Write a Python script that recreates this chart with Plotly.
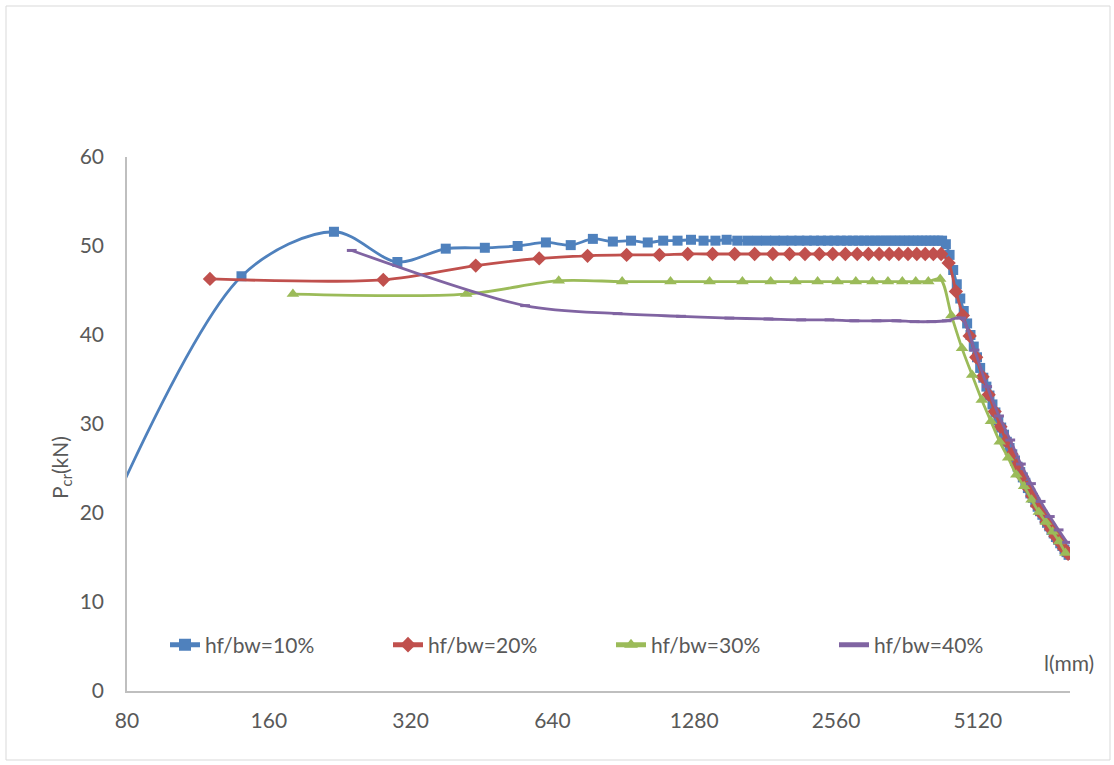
import plotly.graph_objects as go
import math

# ---------------- data ----------------
x_10 = [60, 140, 220, 300, 380, 460, 540, 620, 700, 780, 860, 940, 1020, 1100,
        1180, 1260, 1340, 1420, 1500, 1580, 1660, 1740, 1820, 1900, 1980, 2060,
        2140, 2220, 2300, 2380, 2460, 2540, 2620, 2700, 2780, 2860, 2940, 3020,
        3100, 3180, 3260, 3340, 3420, 3500, 3580, 3660, 3740, 3820, 3900, 3980,
        4060, 4140, 4220, 4300, 4380, 4460, 4540, 4620, 4700, 4780, 4860, 4940,
        5020, 5100, 5180, 5260, 5340, 5420, 5500, 5580, 5660, 5740, 5820, 5900,
        5980, 6060, 6140, 6220, 6300, 6380, 6460, 6540, 6620, 6700, 6780, 6860,
        6940, 7020, 7100, 7180, 7260, 7340, 7420, 7500, 7580, 7660, 7740, 7820,
        7900, 7980]
p_10 = [9.5, 46.6, 51.6, 48.2, 49.7, 49.8, 50.0, 50.4, 50.1, 50.8, 50.5, 50.6, 50.4, 50.6,
        50.6, 50.7, 50.6, 50.6, 50.7, 50.6, 50.6, 50.6, 50.6, 50.6, 50.6, 50.6,
        50.6, 50.6, 50.6, 50.6, 50.6, 50.6, 50.6, 50.6, 50.6, 50.6, 50.6, 50.6,
        50.6, 50.6, 50.6, 50.6, 50.6, 50.6, 50.6, 50.6, 50.6, 50.6, 50.6, 50.6,
        50.6, 50.6, 50.6, 50.6, 50.2, 49.0, 47.3, 45.7, 44.1, 42.7, 41.3, 40.0,
        38.7, 37.5, 36.3, 35.2, 34.2, 33.2, 32.2, 31.3, 30.4, 29.6, 28.8, 28.0,
        27.3, 26.6, 25.9, 25.2, 24.6, 24.0, 23.4, 22.8, 22.2, 21.7, 21.2, 20.7,
        20.2, 19.8, 19.3, 18.9, 18.5, 18.1, 17.7, 17.3, 17.0, 16.6, 16.3, 15.9,
        15.6, 15.3]

x_20 = [120, 280, 440, 600, 760, 920, 1080, 1240, 1400, 1560, 1720, 1880, 2040,
        2200, 2360, 2520, 2680, 2840, 3000, 3160, 3320, 3480, 3640, 3800, 3960,
        4120, 4280, 4440, 4600, 4760, 4920, 5080, 5240, 5400, 5560, 5720, 5880,
        6040, 6200, 6360, 6520, 6680, 6840, 7000, 7160, 7320, 7480, 7640, 7800,
        7960]
p_20 = [46.3, 46.2, 47.8, 48.6, 48.9, 49.0, 49.0, 49.1, 49.1, 49.1, 49.1, 49.1, 49.1,
        49.1, 49.1, 49.1, 49.1, 49.1, 49.1, 49.1, 49.1, 49.1, 49.1, 49.1, 49.1,
        49.1, 49.1, 48.1, 44.9, 42.2, 39.9, 37.5, 35.3, 33.3, 31.4, 29.7, 28.1,
        26.6, 25.4, 24.1, 22.9, 21.9, 20.8, 19.9, 19.0, 18.2, 17.4, 16.7, 16.0,
        15.4]

x_30 = [180, 420, 660, 900, 1140, 1380, 1620, 1860, 2100, 2340, 2580, 2820, 3060,
        3300, 3540, 3780, 4020, 4260, 4500, 4740, 4980, 5220, 5460, 5700, 5940,
        6180, 6420, 6660, 6900, 7140, 7380, 7620, 7860]
p_30 = [44.6, 44.6, 46.1, 46.0, 46.0, 46.0, 46.0, 46.0, 46.0, 46.0, 46.0, 46.0, 46.0,
        46.0, 46.0, 46.0, 46.0, 46.3, 42.2, 38.5, 35.5, 32.7, 30.3, 28.0, 26.2,
        24.3, 23.0, 21.5, 20.1, 19.0, 17.9, 16.8, 15.5]

x_40 = [240, 560, 880, 1200, 1520, 1840, 2160, 2480, 2800, 3120, 3440, 3760, 4080,
        4400, 4720, 5040, 5360, 5680, 6000, 6320, 6640, 6960, 7280, 7600, 7920]
p_40 = [49.5, 43.3, 42.4, 42.1, 41.9, 41.8, 41.7, 41.7, 41.6, 41.6, 41.6, 41.5, 41.5,
        41.6, 41.9, 38.3, 34.2, 30.9, 28.2, 25.5, 23.3, 21.3, 19.6, 18.1, 16.7]

series_names = ["hf/bw=10%", "hf/bw=20%", "hf/bw=30%", "hf/bw=40%"]
x_ticks = [80, 160, 320, 640, 1280, 2560, 5120]
y_ticks = [0, 10, 20, 30, 40, 50, 60]

# ---------------- styling ----------------
colors = ["#4F81BD", "#C0504D", "#9BBB59", "#8064A2"]
FONT = "Lato"
GREY = "#595959"

W, H = 1114, 765
L, R, T, B = 127, 44, 157, 74
pw, ph = W - L - R, H - T - B

def px_to_paper_x(px):
    return (px - L) / pw

def px_to_paper_y(py):
    return (H - B - py) / ph

fig = go.Figure()
marker_specs = [
    dict(symbol="square", size=10),
    dict(symbol="diamond", size=11),
    dict(symbol="triangle-up", size=11),
    dict(symbol="line-ew", size=7),
]
data = [(x_10, p_10), (x_20, p_20), (x_30, p_30), (x_40, p_40)]
for (xs, ys), name, col, ms in zip(data, series_names, colors, marker_specs):
    m = dict(color=col, **ms)
    if ms["symbol"] == "line-ew":
        m["line"] = dict(color=col, width=3)
    else:
        m["line"] = dict(color=col, width=0)
    fig.add_trace(go.Scatter(
        x=xs, y=ys, name=name, mode="lines+markers",
        line=dict(color=col, width=2.8, shape="spline", smoothing=0.9),
        marker=m,
    ))

xmax = 80 * 2 ** ((1070 - 127) / 141.8)
fig.update_xaxes(
    type="log", range=[math.log10(80), math.log10(xmax)],
    tickvals=x_ticks, ticktext=[str(v) for v in x_ticks],
    showgrid=False, zeroline=False, showline=True, linecolor="#BFBFBF", linewidth=1.5,
    ticks="", tickfont=dict(family=FONT, size=21, color=GREY), ticklabelstandoff=10,
)
fig.update_yaxes(
    range=[0, 60], tickvals=y_ticks,
    showgrid=False, zeroline=False, showline=True, linecolor="#BFBFBF", linewidth=1.5,
    ticks="", tickfont=dict(family=FONT, size=21, color=GREY), ticklabelstandoff=17,
)

fig.add_annotation(
    text="P<sub>cr</sub>(kN)", textangle=-90, showarrow=False,
    xref="paper", yref="paper", x=px_to_paper_x(61), y=px_to_paper_y(468),
    xanchor="center", yanchor="middle",
    font=dict(family=FONT, size=21, color=GREY),
)
fig.add_annotation(
    text="l(mm)", showarrow=False,
    xref="paper", yref="paper", x=px_to_paper_x(1069), y=px_to_paper_y(662),
    xanchor="center", yanchor="middle",
    font=dict(family=FONT, size=21, color=GREY),
)
fig.add_shape(
    type="rect", xref="paper", yref="paper",
    x0=px_to_paper_x(6), x1=px_to_paper_x(1110),
    y0=px_to_paper_y(760), y1=px_to_paper_y(6),
    line=dict(color="#D9D9D9", width=1), fillcolor="rgba(0,0,0,0)", layer="below",
)

fig.update_layout(
    width=W, height=H,
    margin=dict(l=L, r=R, t=T, b=B, pad=0),
    paper_bgcolor="white", plot_bgcolor="white",
    showlegend=True,
    legend=dict(
        orientation="h", x=px_to_paper_x(165), y=px_to_paper_y(645),
        xanchor="left", yanchor="middle",
        font=dict(family=FONT, size=21, color=GREY),
        entrywidth=178, entrywidthmode="pixels",
        bgcolor="rgba(0,0,0,0)", itemsizing="constant",
    ),
)

fig.write_html("out.html", config={"displayModeBar": False},
               post_script="document.body.style.margin='0';")
